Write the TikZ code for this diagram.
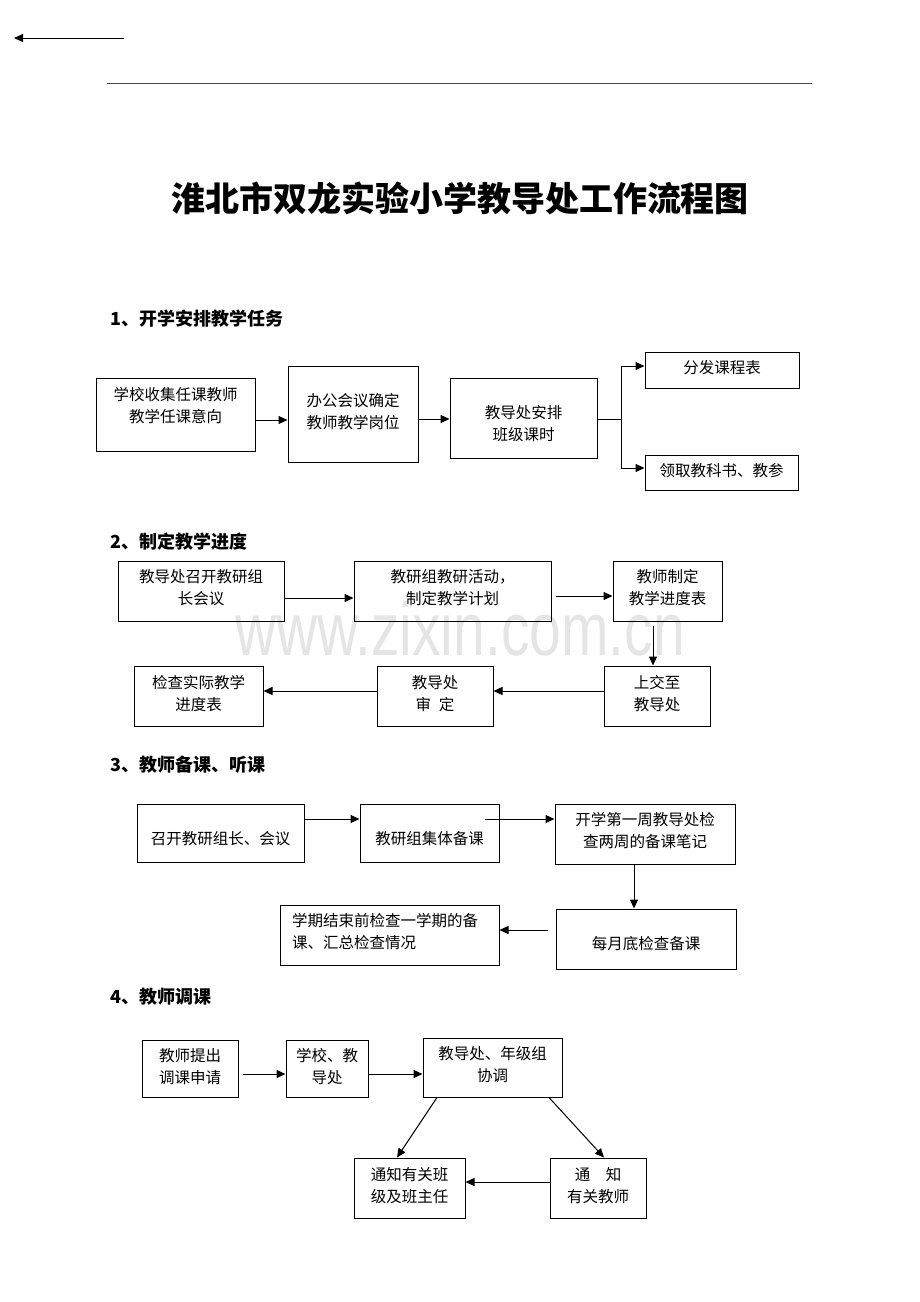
\documentclass[tikz,border=0pt]{standalone}
\usepackage{fontspec}
\usepackage{graphicx}
\setmainfont{Noto Sans CJK SC}
\newfontfamily\wmfont{Liberation Sans}
\usetikzlibrary{arrows.meta}
\newcommand\mybox[7]{%
  \node[boxst, minimum width={(#4-#2)*1pt}, minimum height={(#5-#3)*1pt}] (#1) at ({(#2+#4)/2},{(#3+#5)/2}) {};
  \node[txt] at ({(#2+#4)/2},#6) {#7};}
\begin{document}
\begin{tikzpicture}[x=1pt,y=-1pt,
  boxst/.style={draw, line width=1pt, inner sep=0pt},
  txt/.style={align=center, font=\fontsize{15.5}{22}\selectfont, inner sep=0pt},
  arr/.style={line width=1pt, -{Triangle[length=9pt,width=8pt]}},
  ln/.style={line width=1pt},
  hd/.style={anchor=west, font=\fontsize{18}{20}\selectfont\bfseries, inner sep=0pt}]
\useasboundingbox (0,0) rectangle (920,1302);
% watermark
\node[text=black!10, anchor=base, inner sep=0pt, text height=41pt, text depth=0pt] (wm) at (460,655) {\scalebox{0.76}[1]{\wmfont\fontsize{75}{75}\selectfont www.zixin.com.cn}};
% header
\coordinate (ta) at (124,38);
\coordinate (tb) at (14,38);
\draw[arr] (ta) -- (tb);
\coordinate (ra) at (107,83);
\coordinate (rb) at (812,83);
\draw[black!70, line width=0.8pt] (ra) -- (rb);
\node[font=\fontsize{34}{40}\selectfont\bfseries, inner sep=0pt] (title) at (460,198) {淮北市双龙实验小学教导处工作流程图};
% section 1
\node[hd] (h1) at (110,319) {1、开学安排教学任务};
\mybox{A}{96}{378}{255}{451}{406}{学校收集任课教师\\教学任课意向}
\mybox{B}{288}{366}{418}{462}{412}{办公会议确定\\教师教学岗位}
\mybox{C}{450}{378}{597}{458}{424}{教导处安排\\班级课时}
\mybox{D}{645}{352}{799}{388}{368}{分发课程表}
\mybox{E}{645}{455}{798}{490}{471}{领取教科书、教参}
\draw[arr] (A.east |- 0,420) -- (B.west |- 0,420);
\draw[arr] (B.east |- 0,419) -- (C.west |- 0,419);
\coordinate (br) at (621,419);
\coordinate (brT) at (621,366);
\coordinate (brB) at (621,468);
\draw[ln] (C.east |- br) -- (br);
\draw[ln] (brT) -- (brB);
\draw[arr] (brT) -- (D.west |- brT);
\draw[arr] (brB) -- (E.west |- brB);
% section 2
\node[hd] (h2) at (110,542) {2、制定教学进度};
\mybox{F}{118}{561}{284}{621}{588}{教导处召开教研组\\长会议}
\mybox{G}{354}{561}{551}{621}{588}{教研组教研活动，\\制定教学计划}
\mybox{H}{613}{561}{722}{621}{588}{教师制定\\教学进度表}
\mybox{K}{604}{666}{710}{726}{694}{上交至\\教导处}
\mybox{J}{377}{666}{493}{726}{694}{教导处\\审\hspace{0.5em}定}
\mybox{I}{134}{666}{263}{726}{694}{检查实际教学\\进度表}
\draw[arr] (F.east |- 0,598) -- (G.west |- 0,598);
\coordinate (g1) at (556,596);
\draw[arr] (g1) -- (H.west |- g1);
\coordinate (hk) at (653,626);
\draw[arr] (hk) -- (K.north -| hk);
\draw[arr] (K.west |- 0,691) -- (J.east |- 0,691);
\draw[arr] (J.west |- 0,691) -- (I.east |- 0,691);
% section 3
\node[hd] (h3) at (110,765) {3、教师备课、听课};
\mybox{L}{137}{804}{304}{862}{839}{召开教研组长、会议}
\mybox{M}{360}{804}{499}{862}{839}{教研组集体备课}
\mybox{N}{555}{804}{735}{864}{831}{开学第一周教导处检\\查两周的备课笔记}
\mybox{O}{556}{909}{736}{969}{944}{每月底检查备课}
\node[boxst, minimum width=219pt, minimum height=60pt] (P) at (389.5,935) {};
\node[txt, align=left, anchor=west] (Pt) at (292,932) {学期结束前检查一学期的备\\课、汇总检查情况};
\draw[arr] (L.east |- 0,819) -- (M.west |- 0,819);
\coordinate (m1) at (485,819);
\draw[arr] (m1) -- (N.west |- m1);
\draw[arr] (N.south -| 634,0) -- (O.north -| 634,0);
\coordinate (o1) at (548,930);
\draw[arr] (o1) -- (P.east |- o1);
% section 4
\node[hd] (h4) at (110,997) {4、教师调课};
\mybox{Q}{142}{1040}{238}{1097}{1067}{教师提出\\调课申请}
\mybox{R}{286}{1040}{368}{1097}{1067}{学校、教\\导处}
\mybox{S}{423}{1038}{562}{1097}{1065}{教导处、年级组\\协调}
\mybox{T}{354}{1158}{465}{1218}{1186}{通知有关班\\级及班主任}
\mybox{U}{550}{1158}{646}{1218}{1186}{通\hspace{1em}知\\有关教师}
\coordinate (q1) at (243,1074);
\draw[arr] (q1) -- (R.west |- q1);
\draw[arr] (R.east |- 0,1074) -- (S.west |- 0,1074);
\draw[arr] (S.south -| 437,0) -- (T.north -| 397,0);
\draw[arr] (S.south -| 549,0) -- (U.north -| 604,0);
\draw[arr] (U.west |- 0,1182) -- (T.east |- 0,1182);
\end{tikzpicture}
\end{document}
